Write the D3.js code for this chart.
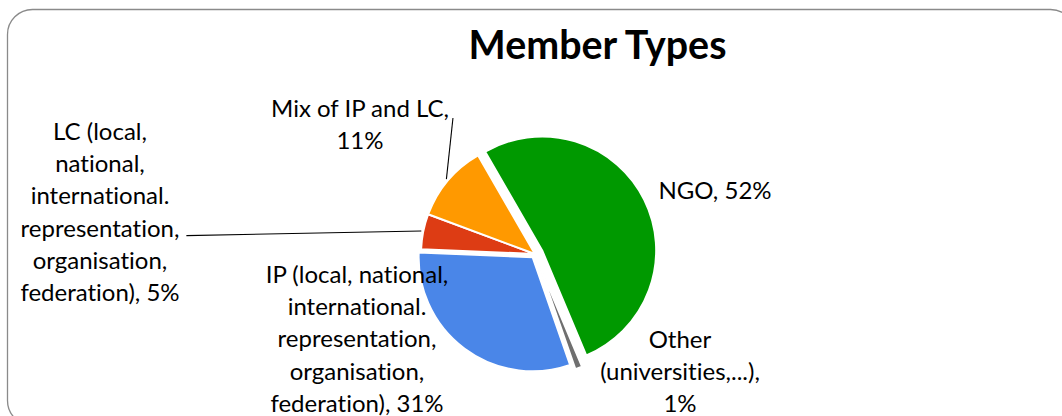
<!DOCTYPE html>
<html>
<head>
<meta charset="utf-8">
<script src="https://cdn.jsdelivr.net/npm/d3@7"></script>
<style>
  html, body { margin: 0; padding: 0; background: #ffffff; }
  svg { display: block; }
  text { font-variant-ligatures: none; font-feature-settings: "liga" 0; }
</style>
</head>
<body>
<svg id="chart" width="1062" height="416"></svg>
<script>
// ---- data ----
const title = "Member Types";
const categories = ["NGO", "Other", "IP", "LC", "Mix of IP and LC"];
const values = [52, 1, 31, 5, 11];
const labelLines = [
  ["NGO,"],
  ["Other", "(universities,...),"],
  ["IP (local, national,", "international.", "representation,", "organisation,", "federation),"],
  ["LC (local,", "national,", "international.", "representation,", "organisation,", "federation),"],
  ["Mix of IP and LC,"]
];
const pctOwnLine = [false, true, false, false, true];
const colors = ["#009900", "#6f6f6f", "#4a86e8", "#dd3c14", "#ff9900"];

// ---- layout ----
const W = 1062, H = 416;
const cx = 535, cy = 254, R = 114;
const explode = [8, 8, 4, 0, 0];
const FONT = "Lato, 'Open Sans', sans-serif";
const labelPos = [
  {dx: 180, dy: -55.5},
  {dx: 145, dy: 94},
  {dx: -178, dy: 29},
  {dx: -435, dy: -114},
  {dx: -175, dy: -137}
];
const lineH = 32.2;

const svg = d3.select("#chart");

// frame
svg.append("rect")
  .attr("x", 7.5).attr("y", 9.5)
  .attr("width", 1068).attr("height", 416)
  .attr("rx", 25).attr("ry", 25)
  .attr("fill", "#ffffff")
  .attr("stroke", "#8a8a8a").attr("stroke-width", 1.3);

// font fitting helper: scale font size to match target width of a reference string
function fitSize(text, weight, target) {
  const t = svg.append("text").attr("font-family", FONT).attr("font-weight", weight)
    .attr("font-size", 100).text(text);
  const w = t.node().getComputedTextLength();
  t.remove();
  return 100 * target / w;
}
const titleSize = fitSize(title, "bold", 258);
const labelSize = fitSize("Mix of IP and LC,", "normal", 178);

// title
svg.append("text")
  .attr("x", 597.5).attr("y", 59)
  .attr("text-anchor", "middle")
  .attr("font-family", FONT).attr("font-weight", "bold")
  .attr("font-size", titleSize)
  .attr("fill", "#000")
  .text(title);

// pie
const pie = d3.pie().sort(null).value(d => d)
  .startAngle(-Math.PI / 6).endAngle(2 * Math.PI - Math.PI / 6);
const arcs = pie(values);
const arc = d3.arc().innerRadius(0).outerRadius(R);

const g = svg.append("g").attr("transform", `translate(${cx},${cy})`);
g.selectAll("path.slice").data(arcs).enter().append("path")
  .attr("class", "slice")
  .attr("transform", (d, i) => {
    const a = (d.startAngle + d.endAngle) / 2;
    return `translate(${explode[i] * Math.sin(a)},${-explode[i] * Math.cos(a)})`;
  })
  .attr("d", arc)
  .attr("fill", (d, i) => colors[i])
  .attr("stroke", "#ffffff")
  .attr("stroke-width", 2)
  .attr("stroke-linejoin", "round");

// labels
const labelG = svg.append("g");
const labelNodes = [];
arcs.forEach((d, i) => {
  const lines = labelLines[i].slice();
  const pct = values[i] + "%";
  if (pctOwnLine[i]) lines.push(pct);
  else lines[lines.length - 1] = lines[lines.length - 1] + " " + pct;
  const t = labelG.append("text")
    .attr("text-anchor", "middle")
    .attr("font-family", FONT)
    .attr("font-size", labelSize)
    .attr("fill", "#000");
  const x = cx + labelPos[i].dx, y0 = cy + labelPos[i].dy;
  const spans = lines.map((ln, k) => t.append("tspan")
    .attr("x", x).attr("y", y0 + k * lineH).text(ln));
  labelNodes.push({x, y0, spans});
});

// leader lines (Mix -> first line end, LC -> 4th line end)
function leader(i, lineIdx, gap, dyOff) {
  const d = arcs[i];
  const a = (d.startAngle + d.endAngle) / 2;
  const r0 = R + explode[i] + 2;
  const sx = cx + r0 * Math.sin(a), sy = cy - r0 * Math.cos(a);
  const L = labelNodes[i];
  const w = L.spans[lineIdx].node().getComputedTextLength();
  const ex = L.x + w / 2 + gap;
  const ey = L.y0 + lineIdx * lineH + dyOff;
  svg.append("line")
    .attr("x1", sx).attr("y1", sy).attr("x2", ex).attr("y2", ey)
    .attr("stroke", "#000").attr("stroke-width", 1.1);
}
leader(4, 0, 4, 1);
leader(3, 3, 7, -1);
</script>
</body>
</html>
